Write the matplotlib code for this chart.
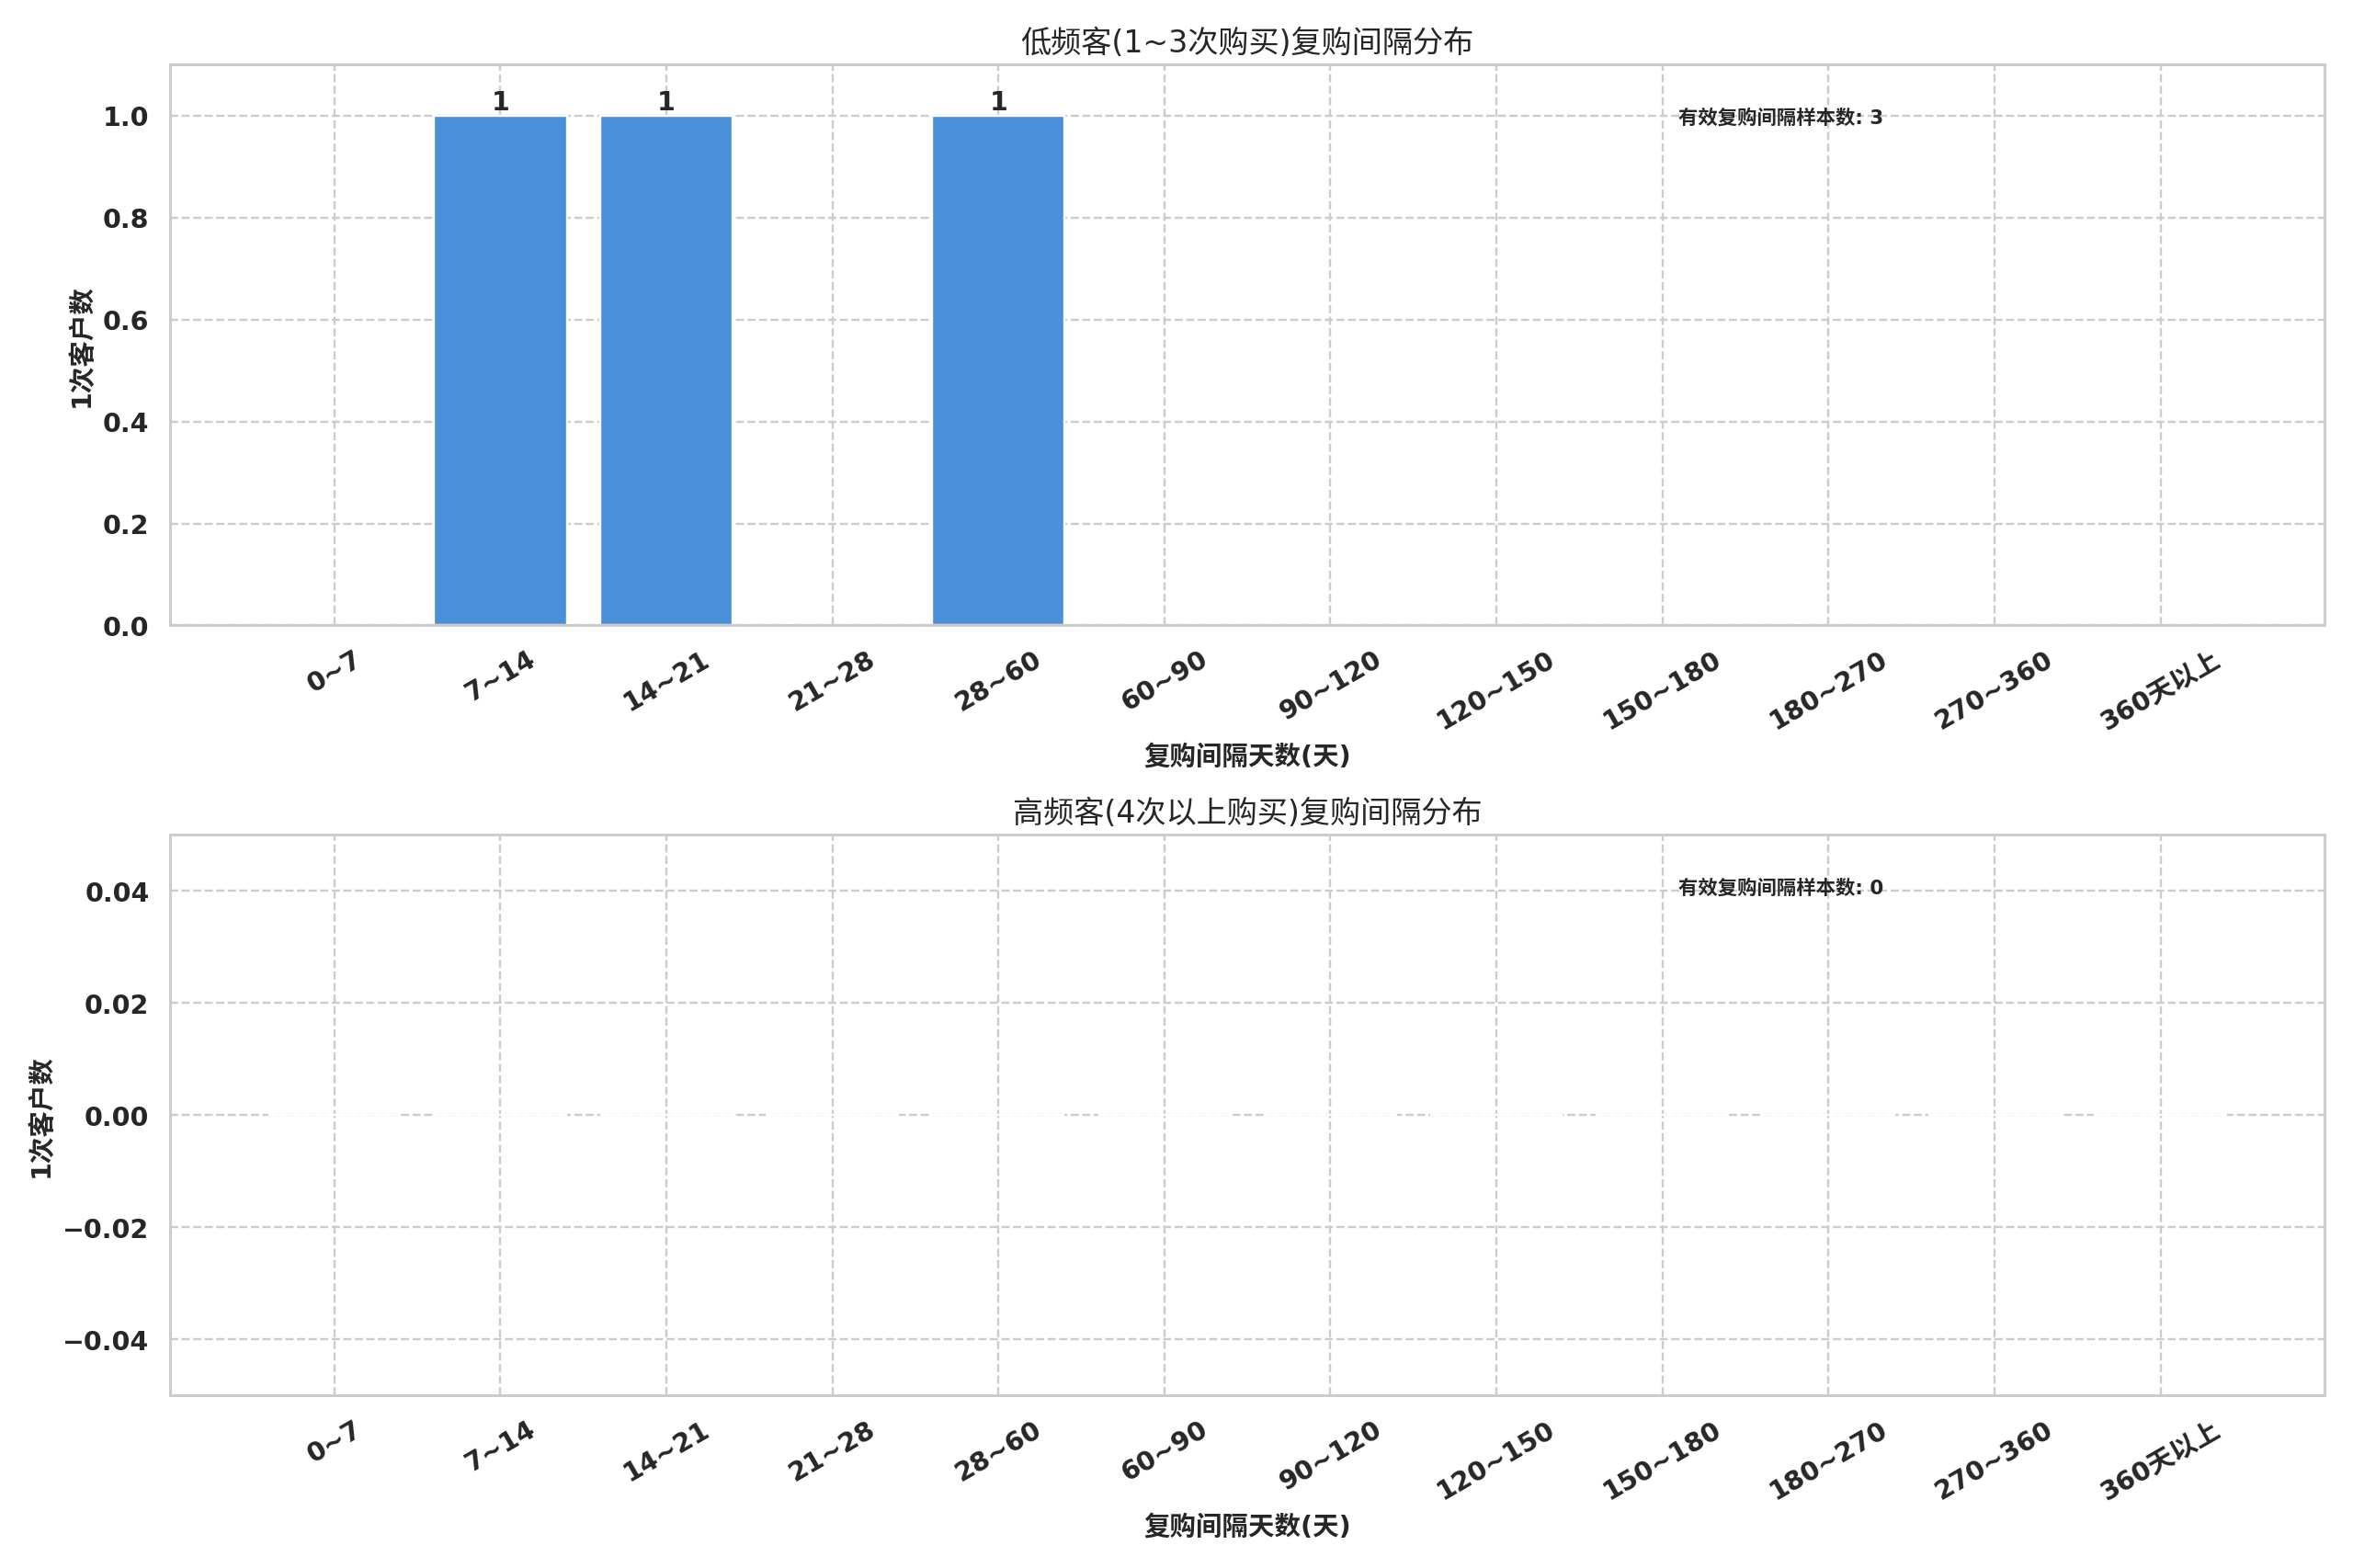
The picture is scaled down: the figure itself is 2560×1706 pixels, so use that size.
import matplotlib
matplotlib.use("Agg")
import matplotlib.pyplot as plt
import seaborn as sns
import numpy as np

sns.set_theme(style="whitegrid")
plt.rcParams['font.family'] = ['DejaVu Sans', 'Noto Sans CJK SC']
plt.rcParams['axes.unicode_minus'] = True
plt.rcParams['grid.linestyle'] = '--'

categories = ["0~7", "7~14", "14~21", "21~28", "28~60", "60~90", "90~120",
              "120~150", "150~180", "180~270", "270~360", "360天以上"]
low_freq_counts = [0, 1, 1, 0, 1, 0, 0, 0, 0, 0, 0, 0]
high_freq_counts = [0, 0, 0, 0, 0, 0, 0, 0, 0, 0, 0, 0]

titles = ["低频客(1~3次购买)复购间隔分布", "高频客(4次以上购买)复购间隔分布"]
xlabel = "复购间隔天数(天)"
ylabel = "1次客户数"
note_label = "有效复购间隔样本数"
bar_color = "#4A90D9"

fig, axes = plt.subplots(2, 1, figsize=(15, 10), dpi=170.67)

for ax, counts, title in zip(axes, [low_freq_counts, high_freq_counts], titles):
    x = np.arange(len(categories))
    ax.bar(x, counts, width=0.8, color=bar_color)
    if max(counts) > 0:
        ax.set_ylim(0, max(counts) * 1.1)
        for xi, c in zip(x, counts):
            if c > 0:
                ax.text(xi, c, f"{c}", ha='center', va='bottom',
                        fontsize=12, fontweight='bold', color='#262626')
    else:
        ax.set_ylim(-0.05, 0.05)
    ax.set_xticks(x)
    ax.set_xticklabels(categories, rotation=30, fontsize=12, fontweight='bold')
    for lab in ax.get_yticklabels():
        lab.set_fontweight('bold')
        lab.set_fontsize(12)
    ax.set_title(title, fontsize=14)
    ax.set_xlabel(xlabel, fontsize=12, fontweight='bold')
    ax.set_ylabel(ylabel, fontsize=12, fontweight='bold')
    ax.text(0.7, 0.905, f"{note_label}: {sum(counts)}", transform=ax.transAxes,
            ha='left', va='center', fontsize=9, fontweight='bold', color='#262626')

plt.tight_layout()
fig.savefig("out.png", dpi=170.67)
